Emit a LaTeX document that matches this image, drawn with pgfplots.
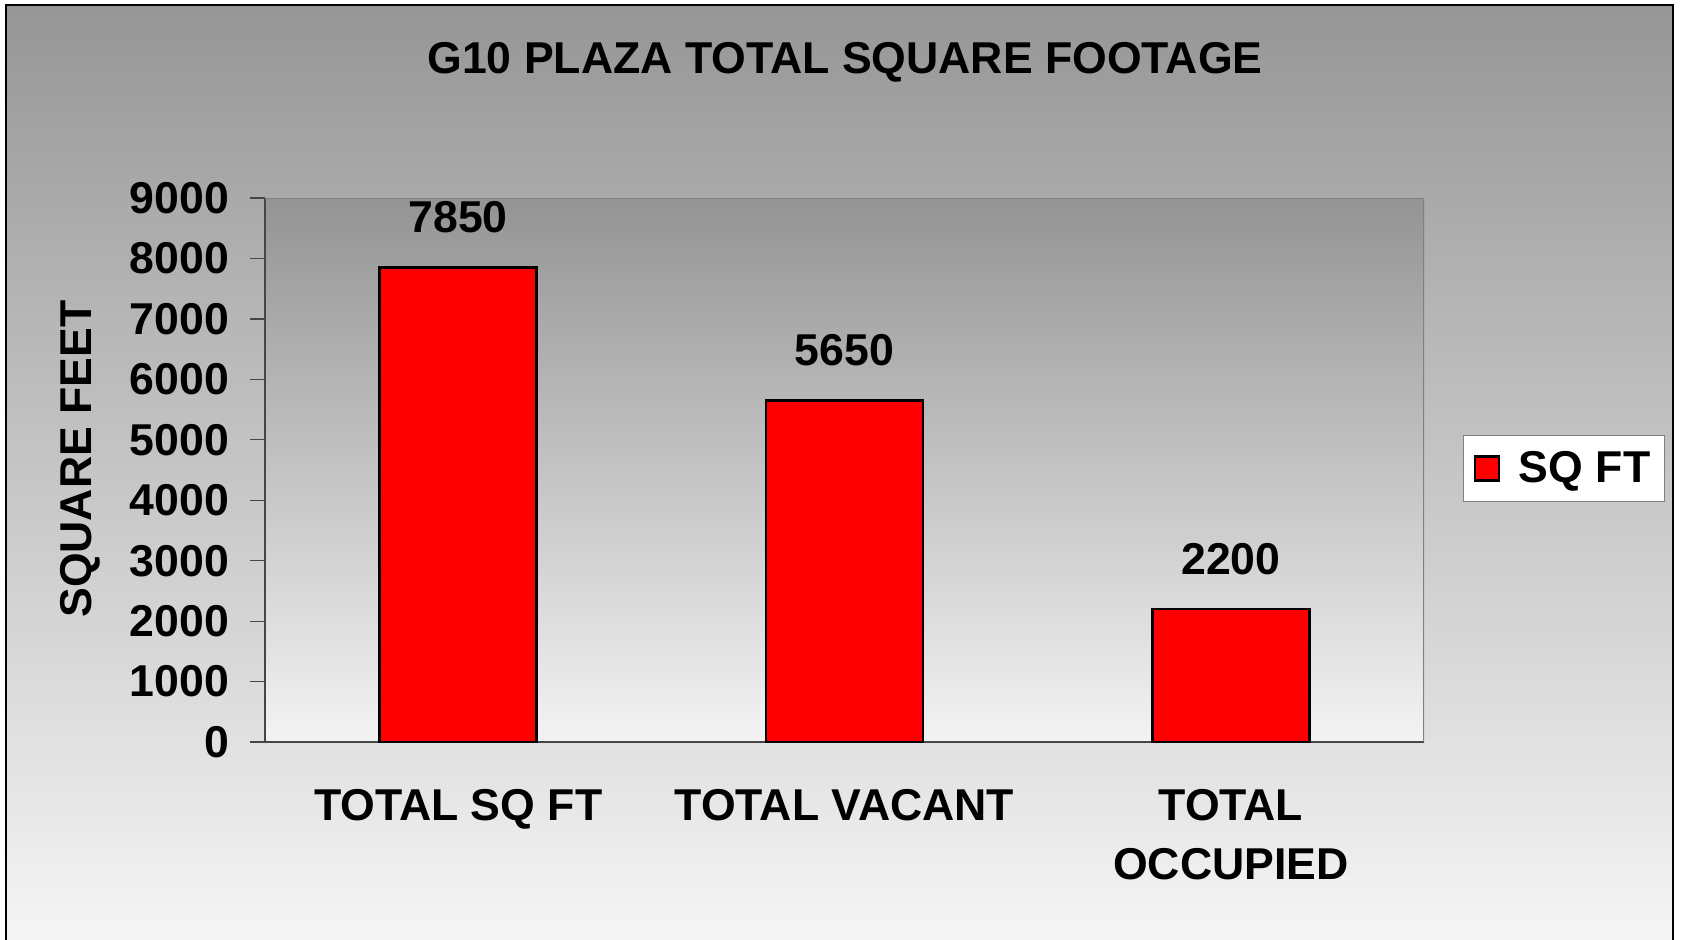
\documentclass[border=0pt]{standalone}
\usepackage{pgfplots}
\pgfplotsset{compat=1.18}
\usepackage{fontspec}
\setmainfont{Liberation Sans}
\definecolor{axgray}{RGB}{70,70,70}
\definecolor{framegray}{RGB}{128,128,128}
\begin{document}
\begin{tikzpicture}
\useasboundingbox (0pt,0pt) rectangle (842pt,469.5pt);
\shade[top color={rgb,255:red,150;green,150;blue,150}, bottom color={rgb,255:red,249;green,249;blue,249}] (3pt,-20pt) rectangle (836.5pt,467pt);
\draw[black, line width=0.8pt] (3pt,-20pt) rectangle (836.5pt,467pt);
\node[font=\fontsize{22.3}{26}\selectfont\bfseries] at (422.5pt,438.3pt) {G10 PLAZA TOTAL SQUARE FOOTAGE};
\begin{axis}[
  at={(132.5pt,98.5pt)}, anchor=south west,
  width=579.5pt, height=272pt, scale only axis,
  xmin=-0.5, xmax=2.5, ymin=0, ymax=9000,
  axis background/.style={shade, top color={rgb,255:red,148;green,148;blue,148}, bottom color={rgb,255:red,243;green,243;blue,243}},
  axis x line*=bottom, axis y line*=left,
  axis line style={axgray, line width=1pt, -},
  ytick={0,1000,...,9000},
  xtick={0,1,2},
  xticklabels={TOTAL SQ FT, TOTAL VACANT, TOTAL\\OCCUPIED},
  x tick style={draw=none},
  extra x ticks={-0.5,0.5,1.5,2.5},
  extra x tick labels={},
  extra x tick style={tick style={draw=axgray, line width=0.6pt}, major tick length=7.5pt},
  y tick style={draw=axgray, line width=0.6pt},
  tick align=outside, major tick length=7.5pt,
  /pgf/number format/assume math mode=true,
  /pgf/number format/1000 sep={},
  ticklabel style={font=\fontsize{22.3}{29.5}\selectfont\bfseries},
  xticklabel style={align=center, yshift=-12.7pt},
  yticklabel style={xshift=-7pt},
  ylabel={SQUARE FEET},
  ylabel style={at={(axis description cs:-0.1596,0.52)}, anchor=center, font=\fontsize{22.3}{26}\selectfont\bfseries},
  ybar, bar width=78.5pt,
  nodes near coords,
  every node near coord/.append style={font=\fontsize{22.3}{26}\selectfont\bfseries, anchor=base, yshift=17.5pt, black},
  legend style={at={(1.0336,0.503)}, anchor=west, fill=white, draw=framegray, line width=0.6pt,
    font=\fontsize{22.3}{26}\selectfont\bfseries, inner xsep=5pt, inner ysep=6pt},
  legend image code/.code={\draw[#1, line width=1.2pt] (0pt,-6pt) rectangle (12pt,6pt); \path (19.5pt,0pt);},
]
\addplot[fill=red, draw=black, line width=1.2pt] coordinates {(0,7850) (1,5650) (2,2200)};
\addlegendentry{SQ FT}
\draw[framegray, line width=1pt] (rel axis cs:0,1) -- (rel axis cs:1,1) -- (rel axis cs:1,0);
\end{axis}
\end{tikzpicture}
\end{document}
